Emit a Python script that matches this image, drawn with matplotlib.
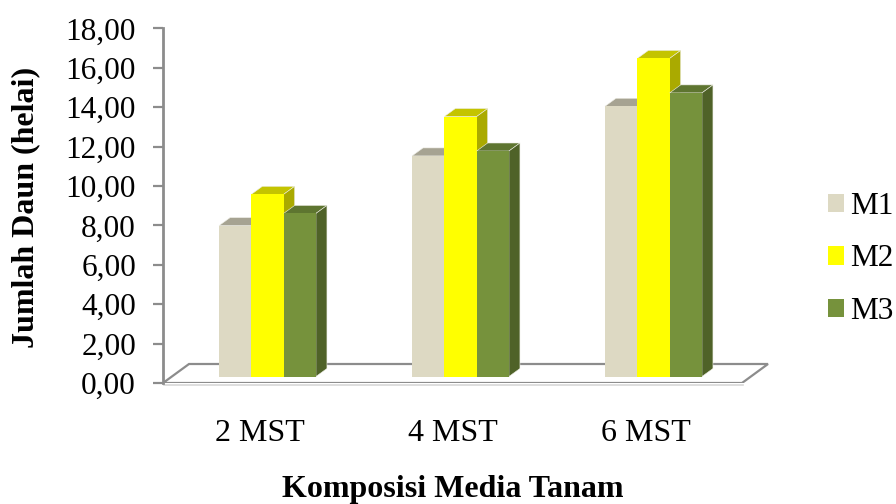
import matplotlib
matplotlib.use("Agg")
import matplotlib.pyplot as plt
from matplotlib.patches import Patch, Polygon

plt.rcParams["font.family"] = ["Liberation Serif"]

categories = ["2 MST", "4 MST", "6 MST"]
series_names = ["M1", "M2", "M3"]
m1_values = [7.66, 11.2, 13.72]
m2_values = [9.25, 13.2, 16.15]
m3_values = [8.28, 11.45, 14.4]
y_ticks = [0, 2, 4, 6, 8, 10, 12, 14, 16, 18]

front_colors = ["#DDD9C3", "#FFFF00", "#76923C"]
top_colors = ["#A6A392", "#C4C400", "#5E7530"]
side_colors = ["#94917F", "#AAAA00", "#4F6228"]
axis_color = "#8C8C8C"

W, H = 896, 504
fig = plt.figure(figsize=(W / 100, H / 100), dpi=100)

# axes box in pixels, the 3d look is added by hand on top of it
left, right, top, bottom = 163, 790, 28.5, 383
ax = fig.add_axes([left / W, 1 - bottom / H, (right - left) / W, (bottom - top) / H])
ax.set_ylim(0, 18)
px_x = 193.0
px_y = (bottom - top) / 18
ax.set_xlim(0, (right - left) / px_x)

# pixel sizes of the oblique projection, in data units
floor_dx, floor_dy = 26 / px_x, 19 / px_y
base_dx, base_dy = 8.0 / px_x, 6.5 / px_y
bar_dx, bar_dy = 11 / px_x, 8 / px_y
bar_w = 32.3 / px_x

# floor of the chart
floor = Polygon(
    [(0, 0), (3, 0), (3 + floor_dx, floor_dy), (floor_dx, floor_dy)],
    closed=True, facecolor="white", edgecolor=axis_color, linewidth=1.6, zorder=1,
)
ax.add_patch(floor)
ax.plot([0.004, 3.004], [-0.09, -0.09], color="#D8D8D8", lw=1.2, zorder=0, clip_on=False)

all_values = [m1_values, m2_values, m3_values]
z = 2
for c in range(len(categories)):
    center = c + 0.5 + base_dx
    for s, values in enumerate(all_values):
        x0 = center + (s - 1.5) * bar_w
        x1 = x0 + bar_w
        y1 = base_dy + values[c]
        # top and side faces first, then the front bar over them
        ax.add_patch(Polygon(
            [(x0, y1), (x1, y1), (x1 + bar_dx, y1 + bar_dy), (x0 + bar_dx, y1 + bar_dy)],
            closed=True, facecolor=top_colors[s], edgecolor="#EDEDE4", linewidth=0.4, zorder=z,
        ))
        ax.add_patch(Polygon(
            [(x1, base_dy), (x1 + bar_dx, base_dy + bar_dy), (x1 + bar_dx, y1 + bar_dy), (x1, y1)],
            closed=True, facecolor=side_colors[s], edgecolor="#EDEDE4", linewidth=0.4, zorder=z,
        ))
        ax.bar(x0, values[c], width=bar_w, bottom=base_dy, align="edge",
               color=front_colors[s], edgecolor="none", zorder=z + 1)
        z += 2

for name in ["top", "right", "bottom"]:
    ax.spines[name].set_visible(False)
ax.spines["left"].set_color(axis_color)
ax.spines["left"].set_linewidth(2)
ax.spines["left"].set_zorder(50)

ax.set_yticks(y_ticks)
ax.set_yticklabels([f"{v:.2f}".replace(".", ",") for v in y_ticks])
ax.tick_params(axis="y", labelsize=22.5, length=7.5, width=1.6, color=axis_color, pad=12)
ax.set_xticks([i + 0.5 for i in range(len(categories))])
ax.set_xticklabels(categories)
ax.tick_params(axis="x", labelsize=23, length=0, pad=26)
for label in ax.get_yticklabels() + ax.get_xticklabels():
    label.set_clip_on(False)

fig.text(26 / W, 1 - 207 / H, "Jumlah Daun (helai)", rotation=90, ha="center", va="center",
         fontsize=23, fontweight="bold")
fig.text(452.5 / W, 1 - 490 / H, "Komposisi Media Tanam", ha="center", va="center",
         fontsize=23, fontweight="bold")

handles = [Patch(facecolor=col, edgecolor="none", label=n) for col, n in zip(front_colors, series_names)]
fig.legend(handles=handles, loc="center left", bbox_to_anchor=(828 / W, 1 - 259 / H), frameon=False,
           fontsize=22.5, handlelength=0.52, handleheight=0.52, handletextpad=0.2,
           labelspacing=0.75, borderpad=0, borderaxespad=0)

fig.savefig("out.png", dpi=100)
